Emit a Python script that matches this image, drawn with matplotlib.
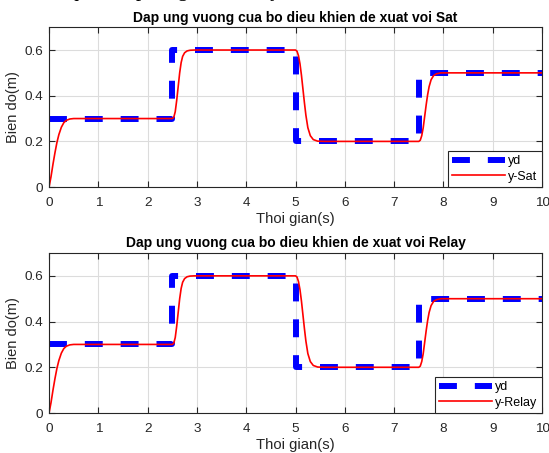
import matplotlib
matplotlib.use("Agg")
import matplotlib.pyplot as plt

plt.rcParams['font.family'] = ['Liberation Sans', 'DejaVu Sans']

# Reference signal yd (step profile)
t_ref = [0, 2.5, 2.5, 5.0, 5.0, 7.5, 7.5, 10.0]
y_ref = [0.3, 0.3, 0.6, 0.6, 0.2, 0.2, 0.5, 0.5]

# System response
t_resp = [0, 0.04, 0.08, 0.12, 0.16, 0.2, 0.25, 0.3, 0.35, 0.42, 0.5, 0.7, 1.0, 1.5, 2.0,
          2.5, 2.53, 2.56, 2.59, 2.62, 2.65, 2.68, 2.71, 2.75, 2.8, 2.86, 2.95, 3.1, 3.5, 4.0, 4.5,
          5.0, 5.03, 5.06, 5.09, 5.12, 5.15, 5.18, 5.21, 5.25, 5.3, 5.36, 5.45, 5.6, 6.0, 7.0,
          7.5, 7.53, 7.56, 7.59, 7.62, 7.65, 7.68, 7.71, 7.75, 7.8, 7.86, 7.95, 8.1, 9.0, 10.0]
y_resp = [0, 0.045, 0.1, 0.15, 0.195, 0.23, 0.262, 0.282, 0.292, 0.298, 0.3, 0.3, 0.3, 0.3, 0.3,
          0.3, 0.305, 0.33, 0.38, 0.44, 0.5, 0.545, 0.572, 0.588, 0.596, 0.599, 0.6, 0.6, 0.6, 0.6, 0.6,
          0.6, 0.595, 0.575, 0.54, 0.49, 0.43, 0.37, 0.315, 0.26, 0.225, 0.208, 0.201, 0.2, 0.2, 0.2,
          0.2, 0.205, 0.225, 0.26, 0.31, 0.36, 0.405, 0.44, 0.47, 0.488, 0.496, 0.5, 0.5, 0.5, 0.5]

titles = ["Dap ung vuong cua bo dieu khien de xuat voi Sat",
          "Dap ung vuong cua bo dieu khien de xuat voi Relay"]
resp_labels = ["y-Sat", "y-Relay"]
xticks = list(range(0, 11))
yticks = [0, 0.2, 0.4, 0.6]

fig = plt.figure(figsize=(5.49, 4.53), dpi=100)
dark = '#262626'
positions = [[0.0893, 0.587, 0.898, 0.353], [0.0893, 0.0883, 0.898, 0.3532]]

fig.text(0.06, 1.0 + 4.0 / 453, "Kết quả mô phỏng như sau: y_S = S_Q", family='Liberation Serif',
         fontsize=15, va='baseline', ha='left', color='black')

for i in range(2):
    ax = fig.add_axes(positions[i])
    ax.plot(t_ref, y_ref, color='#0000ff', lw=4.3, dashes=(3, 3), label='yd',
            solid_capstyle='butt', dash_capstyle='butt')
    ax.plot(t_resp, y_resp, color='#ff0000', lw=1.2, label=resp_labels[i])
    ax.set_xlim(0, 10)
    ax.set_ylim(0, 0.7)
    ax.set_xticks(xticks)
    ax.set_yticks(yticks)
    ax.set_yticklabels(['0', '0.2', '0.4', '0.6'])
    ax.grid(True, color='#dcdcdc', lw=0.8)
    ax.set_axisbelow(True)
    ax.tick_params(direction='in', top=True, right=True, labelsize=9.7, colors=dark,
                   length=4, width=0.8)
    ax.tick_params(axis='x', pad=7)
    ax.tick_params(axis='y', pad=4)
    for s in ax.spines.values():
        s.set_color(dark)
        s.set_linewidth(0.8)
    ax.set_title(titles[i], fontsize=10, fontweight='bold', pad=4)
    ax.set_xlabel('Thoi gian(s)', fontsize=10.7, color=dark, labelpad=2)
    ax.set_ylabel('Bien do(m)', fontsize=10.5, color=dark, labelpad=3)
    leg = ax.legend(loc='lower right', fontsize=9, fancybox=False, framealpha=1,
                    borderaxespad=0, edgecolor=dark, handlelength=4.2, borderpad=0.35,
                    labelspacing=0.3, handletextpad=0.3)
    leg.get_frame().set_linewidth(0.8)

fig.savefig('out.png', dpi=100)
